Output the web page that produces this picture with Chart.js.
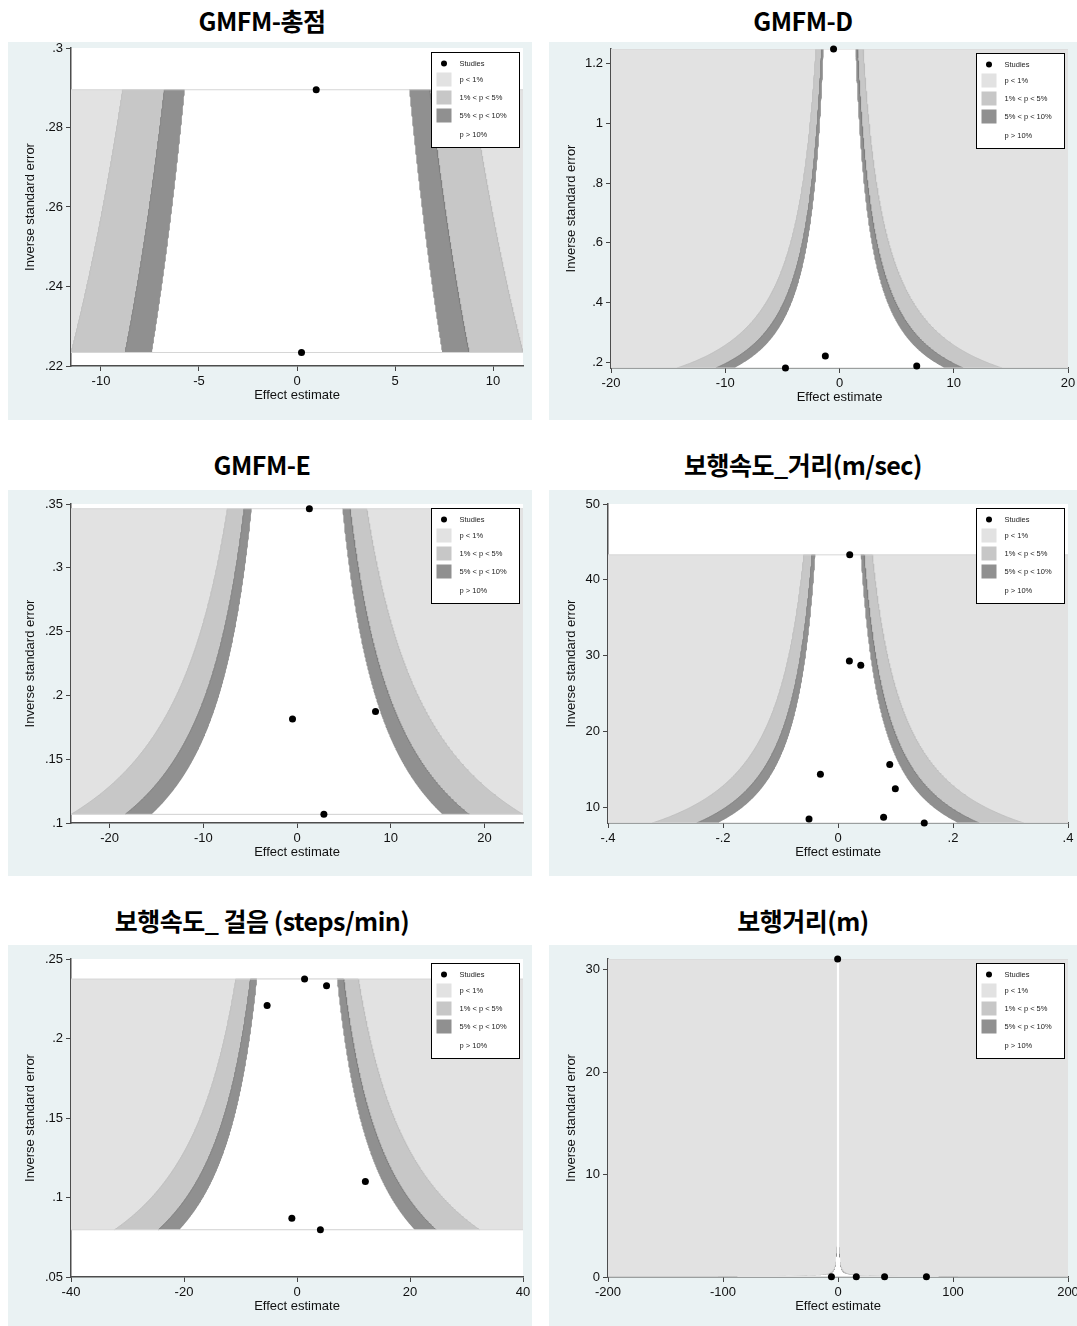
<!DOCTYPE html>
<html>
<head>
<meta charset="utf-8">
<script src="https://cdn.jsdelivr.net/npm/chart.js@4.4.1/dist/chart.umd.min.js"></script>
<style>
  html, body { margin: 0; padding: 0; background: #fff; }
  body { width: 1077px; height: 1326px; position: relative; overflow: hidden; }
  .title {
    position: absolute; width: 520px; text-align: center;
    font-family: "Noto Sans CJK KR", sans-serif; font-weight: 700;
    font-size: 25px; line-height: 30px; color: #000; letter-spacing: -0.5px;
    white-space: nowrap;
  }
  .panel { position: absolute; }
  canvas { display: block; }
</style>
</head>
<body>
<script>
// ---- data ----
const panelTitles = ['GMFM-총점', 'GMFM-D', 'GMFM-E', '보행속도_거리(m/sec)', '보행속도_ 걸음 (steps/min)', '보행거리(m)'];

// effect estimate (x) and inverse standard error (y) of each study
const gmfmTotalEffect = [0.98, 0.23];
const gmfmTotalInvSE  = [0.2895, 0.2234];
const gmfmDEffect = [-0.52, -1.24, -4.73, 6.76];
const gmfmDInvSE  = [1.249, 0.221, 0.181, 0.188];
const gmfmEEffect = [1.32, -0.48, 8.38, 2.87];
const gmfmEInvSE  = [0.3463, 0.1815, 0.1873, 0.1068];
const speedEffect = [0.0204, 0.0198, 0.0396, 0.090, -0.0306, 0.0997, -0.0504, 0.0793, 0.150];
const speedInvSE  = [43.3, 29.3, 28.77, 15.68, 14.4, 12.47, 8.50, 8.72, 7.97];
const cadenceEffect = [1.34, 5.23, -5.29, 12.1, -0.91, 4.14];
const cadenceInvSE  = [0.2374, 0.2332, 0.2207, 0.1101, 0.0869, 0.0797];
const distanceEffect = [-0.3, -5.7, 15.9, 40.5, 76.9];
const distanceInvSE  = [31.04, 0.0188, 0.025, 0.021, 0.019];

// axis ranges and tick labels
const gmfmTotalXRange = [-11.53, 11.53], gmfmTotalYRange = [0.22, 0.30];
const gmfmTotalXTicks = [-10, -5, 0, 5, 10], gmfmTotalYTicks = [0.22, 0.24, 0.26, 0.28, 0.30];
const gmfmDXRange = [-20, 20], gmfmDYRange = [0.181, 1.249];
const gmfmDXTicks = [-20, -10, 0, 10, 20], gmfmDYTicks = [0.2, 0.4, 0.6, 0.8, 1.0, 1.2];
const gmfmEXRange = [-24.12, 24.12], gmfmEYRange = [0.1, 0.35];
const gmfmEXTicks = [-20, -10, 0, 10, 20], gmfmEYTicks = [0.1, 0.15, 0.2, 0.25, 0.3, 0.35];
const speedXRange = [-0.4, 0.4], speedYRange = [7.97, 50];
const speedXTicks = [-0.4, -0.2, 0, 0.2, 0.4], speedYTicks = [10, 20, 30, 40, 50];
const cadenceXRange = [-40, 40], cadenceYRange = [0.05, 0.25];
const cadenceXTicks = [-40, -20, 0, 20, 40], cadenceYTicks = [0.05, 0.1, 0.15, 0.2, 0.25];
const distanceXRange = [-200, 200], distanceYRange = [0, 31.04];
const distanceXTicks = [-200, -100, 0, 100, 200], distanceYTicks = [0, 10, 20, 30];

// significance contours (two-sided z for p = 1%, 5%, 10%)
const contourZ = [2.576, 1.96, 1.645];
const legendLabels = ['Studies', 'p < 1%', '1% < p < 5%', '5% < p < 10%', 'p > 10%'];

// ---- layout (page pixels) ----
const layout = [
  { x: 8,   y: 42,  w: 524, h: 378, plotLeft: 63, plotTop: 6,  plotRight: 515, plotBottom: 324, titleY: 22 },
  { x: 549, y: 42,  w: 540, h: 378, plotLeft: 62, plotTop: 7,  plotRight: 519, plotBottom: 326, titleY: 22 },
  { x: 8,   y: 490, w: 524, h: 386, plotLeft: 63, plotTop: 14, plotRight: 515, plotBottom: 333, titleY: 466 },
  { x: 549, y: 490, w: 540, h: 386, plotLeft: 59, plotTop: 14, plotRight: 519, plotBottom: 333, titleY: 466 },
  { x: 8,   y: 945, w: 524, h: 381, plotLeft: 63, plotTop: 14, plotRight: 515, plotBottom: 332, titleY: 922 },
  { x: 549, y: 945, w: 540, h: 381, plotLeft: 59, plotTop: 14, plotRight: 519, plotBottom: 332, titleY: 922 }
];

const panels = [
  { effect: gmfmTotalEffect, invse: gmfmTotalInvSE, xr: gmfmTotalXRange, yr: gmfmTotalYRange, xt: gmfmTotalXTicks, yt: gmfmTotalYTicks },
  { effect: gmfmDEffect, invse: gmfmDInvSE, xr: gmfmDXRange, yr: gmfmDYRange, xt: gmfmDXTicks, yt: gmfmDYTicks },
  { effect: gmfmEEffect, invse: gmfmEInvSE, xr: gmfmEXRange, yr: gmfmEYRange, xt: gmfmEXTicks, yt: gmfmEYTicks },
  { effect: speedEffect, invse: speedInvSE, xr: speedXRange, yr: speedYRange, xt: speedXTicks, yt: speedYTicks },
  { effect: cadenceEffect, invse: cadenceInvSE, xr: cadenceXRange, yr: cadenceYRange, xt: cadenceXTicks, yt: cadenceYTicks },
  { effect: distanceEffect, invse: distanceInvSE, xr: distanceXRange, yr: distanceYRange, xt: distanceXTicks, yt: distanceYTicks }
];

const shadeColors = ['#e2e2e2', '#c7c7c7', '#909090', '#ffffff'];
const fontFamily = '"Liberation Sans", Arial, sans-serif';

// Stata style labels: .2 instead of 0.2
function stataLabel(v) {
  const r = Math.round(v * 1e6) / 1e6;
  return String(r).replace(/^(-?)0\./, '$1.');
}

// region |x| < z / y between the smallest and largest study precision
function funnelShape(z, ymin, ymax, xmin, xmax) {
  const n = 240, left = [], right = [];
  for (let i = 0; i <= n; i++) {
    const y = ymin * Math.pow(ymax / ymin, i / n);
    const half = z / y;
    left.push({ x: Math.max(-half, xmin), y: y });
    right.push({ x: Math.min(half, xmax), y: y });
  }
  return left.concat(right.reverse());
}

const panelBackground = {
  id: 'panelBackground',
  beforeDraw(chart) {
    const { ctx, chartArea: a, width, height } = chart;
    ctx.save();
    ctx.fillStyle = '#eaf2f3';
    ctx.fillRect(0, 0, width, height);
    ctx.fillStyle = '#ffffff';
    ctx.fillRect(a.left, a.top, a.right - a.left, a.bottom - a.top);
    ctx.restore();
  }
};

const boxLegend = {
  id: 'boxLegend',
  afterDraw(chart) {
    const { ctx, chartArea: a } = chart;
    const w = 88, h = 95;
    const bx = Math.round(a.right - 4 - w) + 0.5, by = Math.round(a.top + 4) + 0.5;
    ctx.save();
    ctx.fillStyle = '#ffffff';
    ctx.fillRect(bx, by, w, h);
    ctx.strokeStyle = '#000';
    ctx.lineWidth = 1;
    ctx.strokeRect(bx, by, w, h);
    const rows = [11, 27, 45, 63, 82];
    ctx.font = '7.5px ' + fontFamily;
    ctx.textBaseline = 'middle';
    ctx.fillStyle = '#000';
    ctx.beginPath();
    ctx.arc(bx + 12.5, by + rows[0], 3, 0, Math.PI * 2);
    ctx.fill();
    for (let i = 0; i < 3; i++) {
      ctx.fillStyle = shadeColors[i];
      ctx.fillRect(bx + 5, by + rows[i + 1] - 7, 15, 14);
    }
    ctx.fillStyle = '#222';
    legendLabels.forEach((t, i) => ctx.fillText(t, bx + 28, by + rows[i] + 0.5));
    ctx.restore();
  }
};

panels.forEach((p, k) => {
  const L = layout[k];
  const title = document.createElement('div');
  title.className = 'title';
  title.textContent = panelTitles[k];
  title.style.left = (L.x + 254 - 260) + 'px';
  title.style.top = (L.titleY - 17) + 'px';
  document.body.appendChild(title);

  const holder = document.createElement('div');
  holder.className = 'panel';
  holder.style.left = L.x + 'px';
  holder.style.top = L.y + 'px';
  const canvas = document.createElement('canvas');
  canvas.width = L.w;
  canvas.height = L.h;
  holder.appendChild(canvas);
  document.body.appendChild(holder);

  const ymin = Math.min(...p.invse), ymax = Math.max(...p.invse);
  const [xmin, xmax] = p.xr;
  const xh = L.h - L.plotBottom;

  const datasets = [
    {
      label: 'Studies',
      data: p.effect.map((e, i) => ({ x: e, y: p.invse[i] })),
      backgroundColor: '#000', borderWidth: 0, pointRadius: 3.5, clip: false, order: 0
    },
    {
      label: 'edge top', showLine: true, fill: false, pointRadius: 0,
      data: [{ x: xmin, y: ymax }, { x: xmax, y: ymax }],
      borderColor: '#d6d6d6', borderWidth: 1, order: 1
    },
    {
      label: 'edge bottom', showLine: true, fill: false, pointRadius: 0,
      data: [{ x: xmin, y: ymin }, { x: xmax, y: ymin }],
      borderColor: '#d6d6d6', borderWidth: 1, order: 1
    },
    {
      label: 'p > 10%', showLine: true, fill: 'shape', pointRadius: 0,
      data: funnelShape(contourZ[2], ymin, ymax, xmin, xmax),
      backgroundColor: shadeColors[3], borderColor: '#ffffff', borderWidth: 1.5, order: 2
    },
    {
      label: '5% < p < 10%', showLine: true, fill: 'shape', pointRadius: 0,
      data: funnelShape(contourZ[1], ymin, ymax, xmin, xmax),
      backgroundColor: shadeColors[2], borderColor: '#7d7d7d', borderWidth: 0.8, order: 3
    },
    {
      label: '1% < p < 5%', showLine: true, fill: 'shape', pointRadius: 0,
      data: funnelShape(contourZ[0], ymin, ymax, xmin, xmax),
      backgroundColor: shadeColors[1], borderColor: '#bcbcbc', borderWidth: 0.8, order: 4
    },
    {
      label: 'p < 1%', showLine: true, fill: 'shape', pointRadius: 0,
      data: [{ x: xmin, y: ymin }, { x: xmax, y: ymin }, { x: xmax, y: ymax }, { x: xmin, y: ymax }],
      backgroundColor: shadeColors[0], borderWidth: 0, order: 5
    }
  ];

  new Chart(canvas.getContext('2d'), {
    type: 'scatter',
    data: { datasets: datasets },
    plugins: [panelBackground, boxLegend],
    options: {
      responsive: false,
      animation: false,
      events: [],
      layout: { padding: { left: 0, top: L.plotTop, right: L.w - L.plotRight, bottom: 0 } },
      plugins: { legend: { display: false }, tooltip: { enabled: false } },
      scales: {
        x: {
          type: 'linear', min: xmin, max: xmax,
          afterBuildTicks: s => { s.ticks = p.xt.map(v => ({ value: v })); },
          afterFit: s => { s.height = xh; s.paddingLeft = 0; s.paddingRight = 0; },
          ticks: { callback: stataLabel, font: { family: fontFamily, size: 13 }, color: '#111', padding: 3, maxRotation: 0, autoSkip: false },
          grid: { display: true, drawOnChartArea: false, drawTicks: true, tickLength: 5, tickColor: '#444', tickWidth: 1 },
          border: { display: true, color: '#4d4d4d', width: 1.5 },
          title: { display: true, text: 'Effect estimate', color: '#111', font: { family: fontFamily, size: 13 }, padding: { top: 0, bottom: xh - 37 } }
        },
        y: {
          type: 'linear', min: p.yr[0], max: p.yr[1],
          afterBuildTicks: s => { s.ticks = p.yt.map(v => ({ value: v })); },
          afterFit: s => { s.width = L.plotLeft; s.paddingTop = 0; s.paddingBottom = 0; },
          ticks: { callback: stataLabel, font: { family: fontFamily, size: 13 }, color: '#111', padding: 3, autoSkip: false },
          grid: { display: true, drawOnChartArea: false, drawTicks: true, tickLength: 5, tickColor: '#444', tickWidth: 1 },
          border: { display: true, color: '#4d4d4d', width: 1.5 },
          title: { display: true, text: 'Inverse standard error', color: '#111', font: { family: fontFamily, size: 13 }, padding: { top: 15, bottom: 0 } }
        }
      }
    }
  });
});
</script>
</body>
</html>
